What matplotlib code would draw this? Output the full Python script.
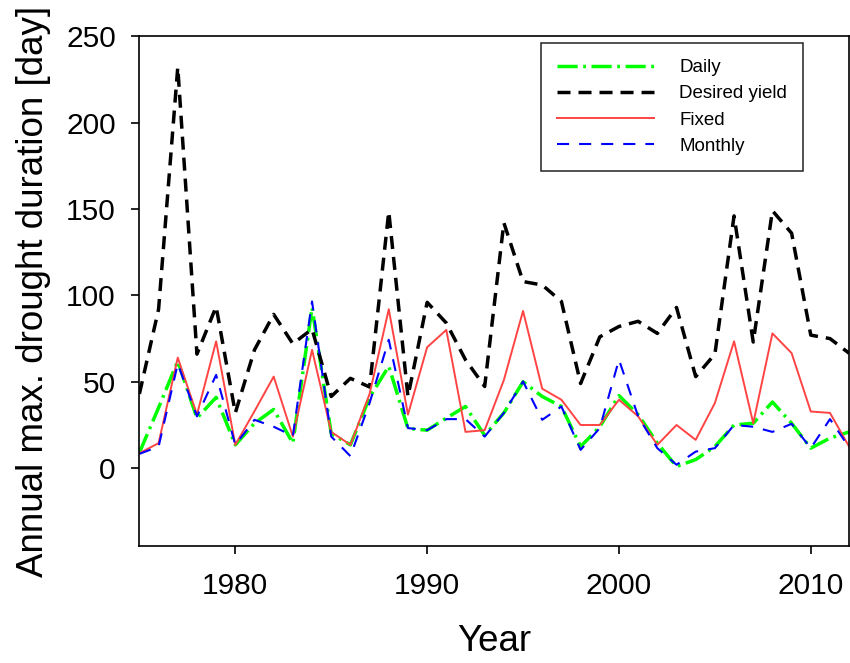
import matplotlib
matplotlib.use("Agg")
import matplotlib.pyplot as plt

plt.rcParams['font.family'] = ['Liberation Sans', 'DejaVu Sans']

years = list(range(1975, 2013))

daily = [9, 35, 62, 29, 41, 13.5, 26, 34, 14.5, 93, 20, 13.5, 41, 59, 23, 22, 29, 35.7, 19, 32,
         50, 41.5, 35.7, 12.5, 24, 42, 31, 14.5, 1, 5, 12.5, 25, 26, 38.3, 26, 11.6, 17.4, 21]
desired = [43, 92, 232, 66, 93.5, 32, 68.5, 89, 72, 80.5, 41.5, 52, 47, 148.5, 41.5, 96, 84, 62.7, 47.3, 142,
           108, 106, 96.5, 49, 76, 82, 85, 78, 93, 53, 66, 146, 73, 149, 136, 77, 75, 66.5]
fixed = [8.7, 14.5, 64, 31, 73.4, 13.5, 33, 53, 18.3, 68.5, 21, 13.5, 43, 92, 31, 70, 80, 21, 22, 51,
         91, 46, 39.6, 25, 25, 39.6, 30, 13.5, 25, 16.4, 37.7, 73.4, 26, 78, 66.6, 32.8, 32, 12.5]
monthly = [8.3, 12.5, 60.4, 30, 54, 13.5, 28, 24, 18.7, 96.5, 18.3, 7, 37.7, 74.3, 23.2, 22, 28.4, 28.4, 18.3, 32,
           50.2, 28, 35.7, 10.6, 23.2, 62.8, 30, 11.6, 2, 9.6, 11.6, 25, 24, 21, 25.7, 11.6, 28.4, 12]

fig = plt.figure(figsize=(8.5, 6.63), dpi=100)
ax = fig.add_axes([0.164, 0.1765, 0.835, 0.769])

ax.plot(years, daily, color='#00ff00', lw=2.5, linestyle=(0, (5.8, 1.6, 0.8, 1.6)), label='Daily')
ax.plot(years, desired, color='black', lw=2.5, linestyle=(0, (3.75, 2.3)), label='Desired yield')
ax.plot(years, fixed, color='#ff4444', lw=1.4, linestyle='-', label='Fixed')
ax.plot(years, monthly, color='#0000ff', lw=1.5, linestyle=(0, (5.8, 4.8)), label='Monthly')

ax.set_xlim(1975, 2012)
ax.set_ylim(-45, 250)
ax.set_xticks([1980, 1990, 2000, 2010])
ax.set_yticks([0, 50, 100, 150, 200, 250])
ax.tick_params(axis='both', direction='out', length=6, width=1.2, labelsize=21.5,
               top=False, right=False)
ax.tick_params(axis='y', pad=11)
ax.tick_params(axis='x', pad=13)
for s in ax.spines.values():
    s.set_linewidth(1.2)

ax.set_xlabel('Year', fontsize=26.5, labelpad=17)
ax.set_ylabel('Annual max. drought duration [day]', fontsize=26.5, labelpad=11)

leg = ax.legend(loc='upper right', bbox_to_anchor=(0.935, 0.986), fontsize=13.5,
                frameon=True, fancybox=False, handlelength=5.2, handletextpad=1.33,
                borderpad=0.85, labelspacing=0.48, borderaxespad=0)
leg.get_frame().set_edgecolor('#222222')
leg.get_frame().set_linewidth(1.1)
leg.get_frame().set_alpha(1)

fig.savefig('out.png', dpi=100)
